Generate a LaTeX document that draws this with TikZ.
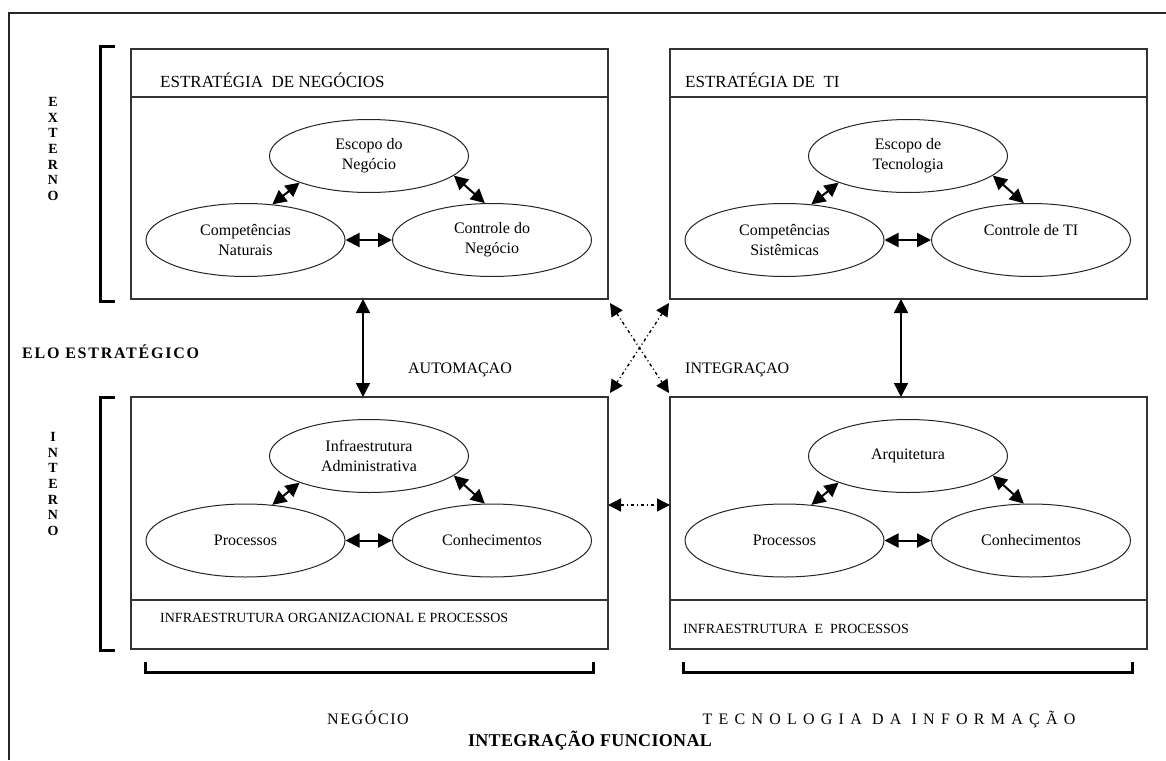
\documentclass[tikz,border=0pt]{standalone}
\usepackage{fontspec}
\setmainfont{Liberation Serif}
\usetikzlibrary{arrows.meta,calc,shapes.geometric}

\tikzset{
  ovtip/.tip={Triangle[length=14pt,width=14pt]},
  vtip/.tip={Triangle[length=14pt,width=14pt]},
  xtip/.tip={Triangle[length=13pt,width=13pt]},
  frameline/.style={draw=black!85,line width=1.3pt},
  panel/.style={rectangle,draw=black!80,line width=1.3pt,minimum width=477pt,
    minimum height=250pt,anchor=north west,inner sep=0pt,outer sep=0pt},
  rule/.style={draw=black!80,line width=1.3pt},
  bracket/.style={draw=black,line width=3pt},
  oval/.style={ellipse,draw=black!85,line width=1pt,minimum width=199pt,
    minimum height=73pt,inner sep=0pt,align=center,
    font=\fontsize{16}{20}\selectfont},
  olink/.style={ovtip-ovtip,draw=black,line width=2pt},
  vlink/.style={vtip-vtip,draw=black,line width=1.5pt},
  xlink/.style={xtip-xtip,draw=black,line width=1.4pt,
    dash pattern=on 3pt off 3pt on 1pt off 3pt},
  hdr/.style={inner sep=0pt,font=\fontsize{17}{20}\selectfont},
  foot/.style={inner sep=0pt,font=\fontsize{14}{17}\selectfont},
  lbl/.style={inner sep=0pt,font=\fontsize{16}{19}\selectfont},
  boldlbl/.style={inner sep=0pt,font=\fontsize{16}{19}\selectfont\bfseries},
  vlab/.style={inner sep=0pt,align=center,font=\fontsize{14}{15.7}\selectfont\bfseries},
}

\begin{document}
\begin{tikzpicture}[x=1pt,y=-1pt]
\useasboundingbox (0,0) rectangle (1166,760);
\fill[white] (0,0) rectangle (1166,760);

% outer frame (only top and left edges fall inside the page)
\draw[frameline] (9,760) -- (9,13) -- (1166,13);

% four panels
\node[panel] (tl) at (131,49) {};
\node[panel] (tr) at (670,49) {};
\node[panel,minimum height=252pt] (bl) at (131,397) {};
\node[panel,minimum height=252pt] (br) at (670,397) {};

% title bands of the upper panels, footer bands of the lower panels
\draw[rule] ($(tl.north west)+(0,48)$) -- ($(tl.north east)+(0,48)$);
\draw[rule] ($(tr.north west)+(0,48)$) -- ($(tr.north east)+(0,48)$);
\draw[rule] ($(bl.south west)+(0,-49)$) -- ($(bl.south east)+(0,-49)$);
\draw[rule] ($(br.south west)+(0,-49)$) -- ($(br.south east)+(0,-49)$);

\node[hdr,anchor=base west] (hneg) at (160,87) {ESTRAT\'EGIA\ \ DE NEG\'OCIOS};
\node[hdr,anchor=base west] (hti) at (685,87) {ESTRAT\'EGIA DE\ \ TI};
\node[foot,anchor=base west] (fneg) at (160,622) {INFRAESTRUTURA ORGANIZACIONAL E PROCESSOS};
\node[foot,anchor=base west] (fti) at (683,633) {INFRAESTRUTURA\ \ E\ \ PROCESSOS};

% ellipses: business strategy
\node[oval] (escN) at (369,156) {Escopo do\\Neg\'ocio};
\node[oval] (compN) at (245.5,240) {Compet\^encias\\Naturais};
\node[oval] (ctrlN) at (492,240) {Controle do\\Neg\'ocio};
% IT strategy
\node[oval] (escT) at (908,156) {Escopo de\\Tecnologia};
\node[oval] (compT) at (784.5,240) {Compet\^encias\\Sist\^emicas};
\node[oval] (ctrlT) at (1031,240) {Controle de TI\\\phantom{X}};
% organisational infrastructure
\node[oval] (infN) at (369,456) {Infraestrutura\\Administrativa};
\node[oval] (procN) at (245.5,540.5) {Processos};
\node[oval] (conN) at (492,540.5) {Conhecimentos};
% IT infrastructure
\node[oval] (arqT) at (908,456) {Arquitetura};
\node[oval] (procT) at (784.5,540.5) {Processos};
\node[oval] (conT) at (1031,540.5) {Conhecimentos};

% links inside each panel
\foreach \a/\b/\c in {escN/compN/ctrlN, escT/compT/ctrlT, infN/procN/conN, arqT/procT/conT}{
  \draw[olink] (\b.53) -- (\a.201);
  \draw[olink] (\a.-13) -- (\c.101);
  \draw[olink] (\b.east) -- (\c.west);
}

% strategic fit
\draw[vlink] ($(tl.south west)+(232,0)$) -- ($(bl.north west)+(232,0)$);
\draw[vlink] ($(tr.south west)+(231,0)$) -- ($(br.north west)+(231,0)$);

% cross-dimension links
\draw[xlink] ($(tl.south east)+(2,4)$) -- ($(br.north west)+(-1,-4)$);
\draw[xlink] ($(tr.south west)+(-1,4)$) -- ($(bl.north east)+(2,-4)$);
\draw[xlink] ($(bl.north east)+(0,108)$) -- ($(br.north west)+(0,108)$);

\node[lbl,anchor=base] (auto) at (460,373) {AUTOMA\c{C}AO};
\node[lbl,anchor=base west] (integ) at (685,373) {INTEGRA\c{C}AO};

% side and bottom brackets
\draw[bracket] (115,47) -- (100,47) -- (100,301) -- (115,301);
\draw[bracket] (115,397) -- (100,397) -- (100,650) -- (115,650);
\draw[bracket] (145,662) -- (145,672) -- (593,672) -- (593,662);
\draw[bracket] (683,662) -- (683,672) -- (1132,672) -- (1132,662);

\node[vlab,anchor=north] (ext) at (53,97) {E\\X\\T\\E\\R\\N\\O};
\node[vlab,anchor=north] (int) at (53,432) {I\\N\\T\\E\\R\\N\\O};
\node[boldlbl,anchor=base west] (elo) at (22,358)
  {\addfontfeature{LetterSpace=11}ELO ESTRAT\'EGICO};

\node[lbl,anchor=base] (neg) at (368,724)
  {\addfontfeature{LetterSpace=10}NEG\'OCIO};
\node[lbl,anchor=base] (ti) at (889,724)
  {\addfontfeature{LetterSpace=39}TECNOLOGIA DA INFORMA\c{C}\~AO};
\node[boldlbl,anchor=base,font=\fontsize{18}{21}\selectfont\bfseries] (func) at (590,746)
  {\addfontfeature{LetterSpace=2}INTEGRA\c{C}\~AO FUNCIONAL};
\end{tikzpicture}
\end{document}
